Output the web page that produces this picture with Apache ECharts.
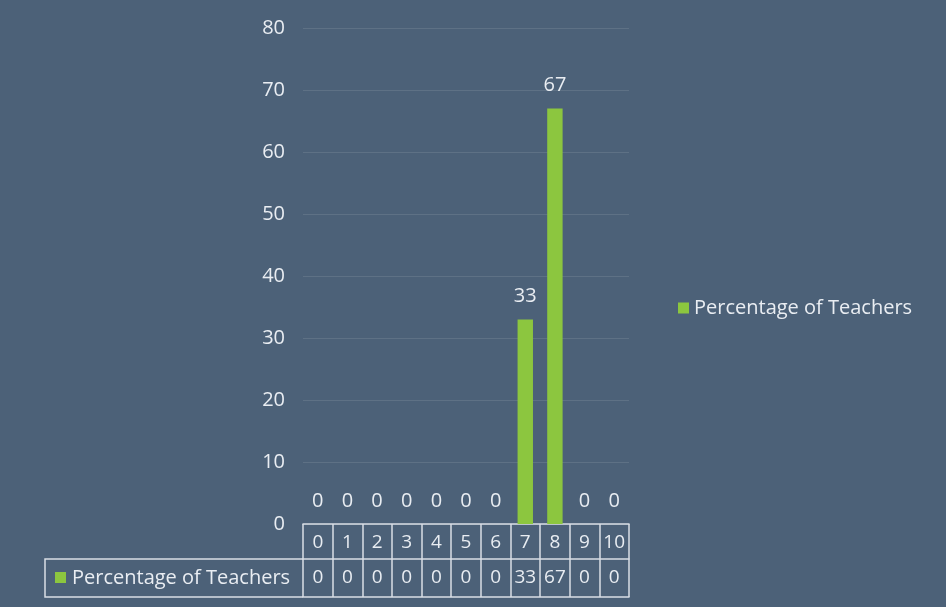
<!DOCTYPE html>
<html>
<head>
<meta charset="utf-8">
<script src="https://cdn.jsdelivr.net/npm/echarts@6/dist/echarts.min.js"></script>
<style>
html,body{margin:0;padding:0;background:#4c6178;}
#chart{width:946px;height:607px;}
</style>
</head>
<body>
<div id="chart"></div>
<script>
const categories = ['0','1','2','3','4','5','6','7','8','9','10'];
const seriesName = 'Percentage of Teachers';
const values = [0, 0, 0, 0, 0, 0, 0, 33, 67, 0, 0];
const yTicks = {min: 0, max: 80, interval: 10};

const FONT = 'Open Sans';
const TXT = '#e9edf2';
const LINE = '#d9dee5';
const GREEN = '#8cc63f';

const chart = echarts.init(document.getElementById('chart'));
chart.setOption({
  backgroundColor: '#4c6178',
  animation: false,
  textStyle: {fontFamily: FONT},
  grid: {left: 303, right: 317, top: 28, bottom: 83},
  legend: {
    data: [seriesName],
    left: 673, top: 293,
    itemWidth: 11, itemHeight: 11, icon: 'rect', itemGap: 6,
    textStyle: {color: TXT, fontSize: 20, fontFamily: FONT}
  },
  xAxis: [
    {
      type: 'category', data: categories, position: 'bottom',
      axisLine: {show: true, lineStyle: {color: LINE, width: 1.5}},
      axisTick: {show: true, length: 73, alignWithLabel: false, lineStyle: {color: LINE, width: 1.5}},
      axisLabel: {color: TXT, fontSize: 19, margin: 9, interval: 0}
    },
    {
      type: 'category', data: categories, position: 'bottom', offset: 35,
      axisLine: {show: true, lineStyle: {color: LINE, width: 1.5}},
      axisTick: {show: false},
      axisLabel: {color: TXT, fontSize: 19, margin: 9, interval: 0,
        formatter: (v, i) => String(values[i])}
    },
    {
      type: 'category', data: categories, position: 'bottom', offset: 73,
      axisLine: {show: true, lineStyle: {color: LINE, width: 1.5}},
      axisTick: {show: false},
      axisLabel: {show: false}
    }
  ],
  yAxis: {
    type: 'value', min: yTicks.min, max: yTicks.max, interval: yTicks.interval,
    axisLine: {show: false}, axisTick: {show: false},
    axisLabel: {color: TXT, fontSize: 20, margin: 18},
    splitLine: {show: true, lineStyle: {color: 'rgba(255,255,255,0.10)', width: 1}}
  },
  series: [{
    name: seriesName, type: 'bar', data: values, xAxisIndex: 0,
    barWidth: '52%',
    itemStyle: {color: GREEN},
    label: {show: true, position: 'top', distance: 13, color: TXT, fontSize: 20, fontFamily: FONT}
  }],
  graphic: [
    {type: 'polyline', shape: {points: [[303, 559], [45, 559], [45, 597], [303, 597]]},
     style: {stroke: LINE, lineWidth: 1.5, fill: null}},
    {type: 'rect', shape: {x: 55, y: 572, width: 11, height: 11}, style: {fill: GREEN}},
    {type: 'text', x: 72, y: 578, style: {text: seriesName, fill: TXT, fontSize: 20, fontFamily: FONT, verticalAlign: 'middle'}}
  ]
});
</script>
</body>
</html>
